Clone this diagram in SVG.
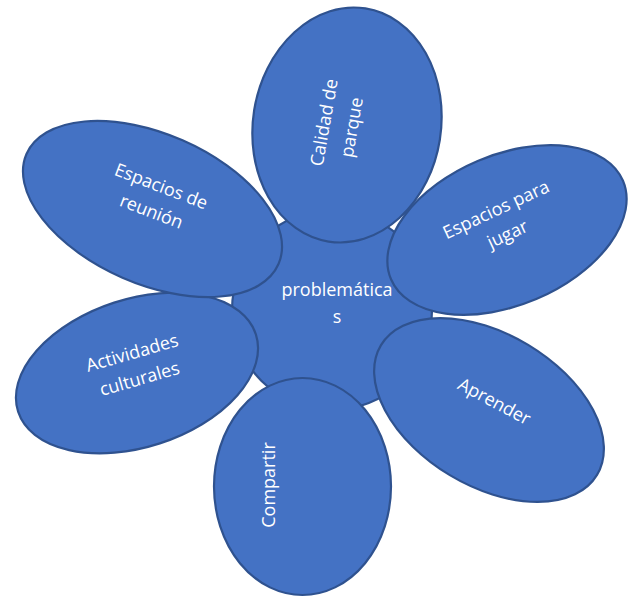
<svg xmlns="http://www.w3.org/2000/svg" width="630" height="599" viewBox="0 0 630 599">
<style>
.shape{fill:#4472C4;stroke:#2F528F;stroke-width:2.2}
.lbl{font-family:"Open Sans","Liberation Sans",sans-serif;font-size:18px;fill:#FFFFFF;text-anchor:middle}
</style>
<rect width="630" height="599" fill="#FFFFFF"/>
<g id="center">
<circle class="shape" cx="332" cy="310" r="100"/>
<text class="lbl" x="337" y="296">problemática</text>
<text class="lbl" x="337" y="323">s</text>
</g>
<g id="actividades">
<ellipse class="shape" cx="0" cy="0" rx="125" ry="74" transform="translate(137,373) rotate(-18)"/>
<g transform="translate(136,366.5) rotate(-16)">
<text class="lbl" x="0" y="-8">Actividades</text>
<text class="lbl" x="0" y="19">culturales</text>
</g>
</g>
<g id="reunion">
<ellipse class="shape" cx="0" cy="0" rx="137.5" ry="75" transform="translate(152.5,209) rotate(23.6)"/>
<g transform="translate(156,199.5) rotate(21)">
<text class="lbl" x="0" y="-8">Espacios de</text>
<text class="lbl" x="0" y="19">reunión</text>
</g>
</g>
<g id="calidad">
<ellipse class="shape" cx="0" cy="0" rx="118" ry="94" transform="translate(347,125) rotate(-81)"/>
<g transform="translate(344,126) rotate(-80)">
<text class="lbl" x="0" y="-14">Calidad de</text>
<text class="lbl" x="0" y="14">parque</text>
</g>
</g>
<g id="jugar">
<ellipse class="shape" cx="0" cy="0" rx="126" ry="75" transform="translate(507,230) rotate(-23)"/>
<g transform="translate(502,222.5) rotate(-25)">
<text class="lbl" x="0" y="-8">Espacios para</text>
<text class="lbl" x="0" y="19">jugar</text>
</g>
</g>
<g id="aprender">
<ellipse class="shape" cx="0" cy="0" rx="126" ry="76" transform="translate(489,410) rotate(31)"/>
<g transform="translate(494,402) rotate(28)">
<text class="lbl" x="0" y="5.5">Aprender</text>
</g>
</g>
<g id="compartir">
<ellipse class="shape" cx="0" cy="0" rx="108.5" ry="88.5" transform="translate(302.5,486.5) rotate(-90)"/>
<g transform="translate(275,485) rotate(-90)">
<text class="lbl" x="0" y="0">Compartir</text>
</g>
</g>
<g id="connectors"></g>
</svg>
